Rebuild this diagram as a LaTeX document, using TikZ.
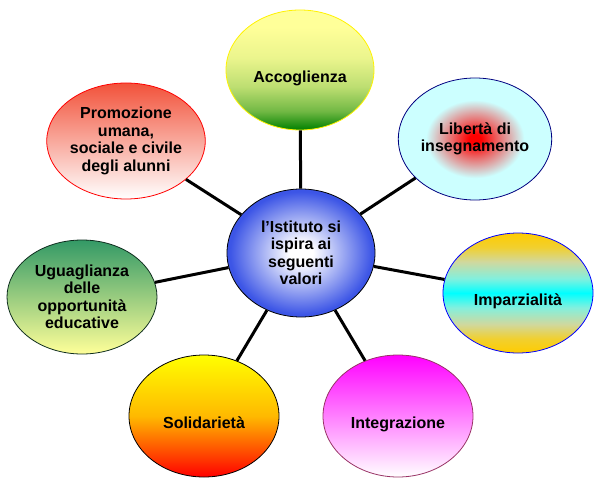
\documentclass[tikz,border=0pt]{standalone}
\usepackage{fontspec}
\setmainfont{Liberation Sans}
\usetikzlibrary{shapes.geometric}

\definecolor{palegold}{RGB}{255,255,153}
\definecolor{leafgreen}{RGB}{0,128,0}
\definecolor{seagreen}{RGB}{51,153,102}
\definecolor{tomato}{RGB}{242,82,58}
\definecolor{lightcyan}{RGB}{204,255,255}
\definecolor{royal}{RGB}{60,85,230}
\definecolor{gold}{RGB}{255,204,0}
\definecolor{plum}{RGB}{153,51,102}
\definecolor{navy}{RGB}{0,0,128}
\definecolor{sand}{RGB}{208,216,158}
\definecolor{aqua}{RGB}{130,240,222}

\pgfdeclareradialshading{redcore}{\pgfpoint{0bp}{0bp}}{color(0bp)=(red); color(2bp)=(red); color(8bp)=(red!55!lightcyan); color(16bp)=(lightcyan); color(50bp)=(lightcyan)}
\pgfdeclareradialshading{whitecore}{\pgfpoint{0bp}{0bp}}{color(0bp)=(white); color(4bp)=(white); color(24bp)=(royal); color(50bp)=(royal)}
\pgfdeclareverticalshading{greenfade}{100bp}{color(0bp)=(leafgreen); color(25bp)=(leafgreen); color(33bp)=(palegold!45!leafgreen); color(43bp)=(palegold!74!leafgreen); color(55bp)=(palegold!92!leafgreen); color(68bp)=(palegold); color(100bp)=(palegold)}
\pgfdeclareverticalshading{goldband}{100bp}{color(0bp)=(gold); color(25bp)=(gold); color(31bp)=(gold!70!sand); color(37bp)=(sand); color(44bp)=(aqua); color(50bp)=(cyan); color(56bp)=(aqua); color(63bp)=(sand); color(69bp)=(gold!70!sand); color(75bp)=(gold); color(100bp)=(gold)}

\begin{document}
\begin{tikzpicture}[x=1pt,y=1pt,
  value/.style={ellipse,draw,line width=0.8pt,inner sep=0pt,
    minimum width=150pt,minimum height=122pt,align=center,
    font=\bfseries\fontsize{16}{17.5}\selectfont},
  lowtext/.style={text height=28pt,text depth=3pt},
  spoke/.style={line width=3pt}]
\useasboundingbox (0,0) rectangle (601,491);

\node[value,draw=black,shading=whitecore,minimum width=148pt,minimum height=128pt] (cen) at (301,238) {l’Istituto si\\ispira ai\\seguenti\\valori};
\node[value,lowtext,draw=yellow,shading=greenfade,minimum width=148pt,minimum height=120pt] (acc) at (300,421) {Accoglienza};
\node[value,draw=navy,shading=redcore,minimum width=148pt] (lib) at (475,352) {Libertà di\\insegnamento};
\node[value,lowtext,draw=blue,shading=goldband,minimum height=120pt] (imp) at (518,198) {Imparzialità};
\node[value,lowtext,draw=plum,top color=magenta,bottom color=white] (int) at (398,75) {Integrazione};
\node[value,lowtext,draw=black,top color=yellow,bottom color=red,middle color={rgb,255:red,255;green,185;blue,0}] (sol) at (204,75) {Solidarietà};
\node[value,draw=black!70!seagreen,top color=seagreen,bottom color=palegold,minimum height=114pt] (ugu) at (82,194) {Uguaglianza\\delle\\opportunità\\educative};
\node[value,draw=red,top color=tomato,bottom color=white,minimum height=116pt] (pro) at (126,350) {Promozione\\umana,\\sociale e civile\\degli alunni};

\foreach \n in {acc,lib,imp,int,sol,ugu,pro}
  \draw[spoke] (cen) -- (\n);
\end{tikzpicture}
\end{document}
